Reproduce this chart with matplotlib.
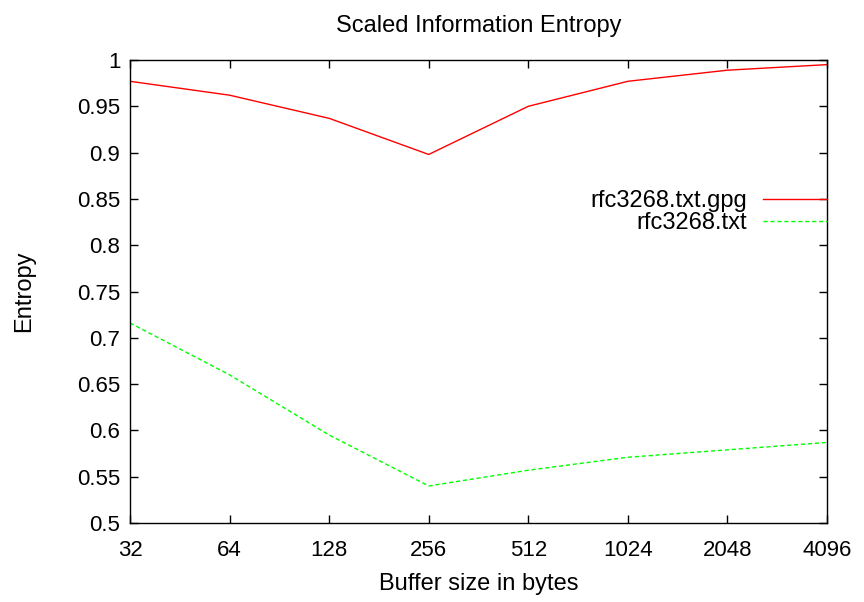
import matplotlib
matplotlib.use("Agg")
import matplotlib.pyplot as plt

plt.rcParams['font.family'] = ['Liberation Sans', 'DejaVu Sans']

buffer_sizes = [32, 64, 128, 256, 512, 1024, 2048, 4096]
gpg_entropy = [0.977, 0.962, 0.937, 0.898, 0.950, 0.977, 0.989, 0.995]
txt_entropy = [0.716, 0.660, 0.595, 0.540, 0.557, 0.571, 0.579, 0.587]
x_tick_labels = ['32', '64', '128', '256', '512', '1024', '2048', '4096']
y_ticks = [0.5, 0.55, 0.6, 0.65, 0.7, 0.75, 0.8, 0.85, 0.9, 0.95, 1.0]
y_tick_labels = ['0.5', '0.55', '0.6', '0.65', '0.7', '0.75', '0.8', '0.85', '0.9', '0.95', '1']

fig = plt.figure(figsize=(8.64, 6.02), dpi=100)
ax = fig.add_axes([130/864, 1-523/602, (827-130)/864, (523-60)/602])

ax.plot(buffer_sizes, gpg_entropy, color='#ff0000', lw=1.0, label='rfc3268.txt.gpg')
ax.plot(buffer_sizes, txt_entropy, color='#00ff00', lw=1.0, dashes=(3, 2), label='rfc3268.txt')

ax.set_xscale('log', base=2)
ax.set_xlim(32, 4096)
ax.set_ylim(0.5, 1.0)
ax.set_xticks(buffer_sizes)
ax.set_xticklabels(x_tick_labels)
ax.minorticks_off()
ax.set_yticks(y_ticks)
ax.set_yticklabels(y_tick_labels)
ax.tick_params(direction='in', length=6, width=1, top=True, right=True, labelsize=16)
ax.tick_params(axis='x', pad=12)
ax.tick_params(axis='y', pad=7)
for s in ax.spines.values():
    s.set_linewidth(1)

ax.set_title('Scaled Information Entropy', fontsize=17, pad=20)
ax.set_xlabel('Buffer size in bytes', fontsize=17, labelpad=9)
ax.set_ylabel('Entropy', fontsize=17, labelpad=30)

leg = ax.legend(loc='upper right', bbox_to_anchor=(1.0, 1 - (190-60)/463), frameon=False,
                markerfirst=False, fontsize=17, handlelength=2.7, handletextpad=0.7,
                labelspacing=0.0, borderaxespad=0, borderpad=0)
for t in leg.get_texts():
    t.set_ha('right')

fig.savefig('out.png', dpi=100)
